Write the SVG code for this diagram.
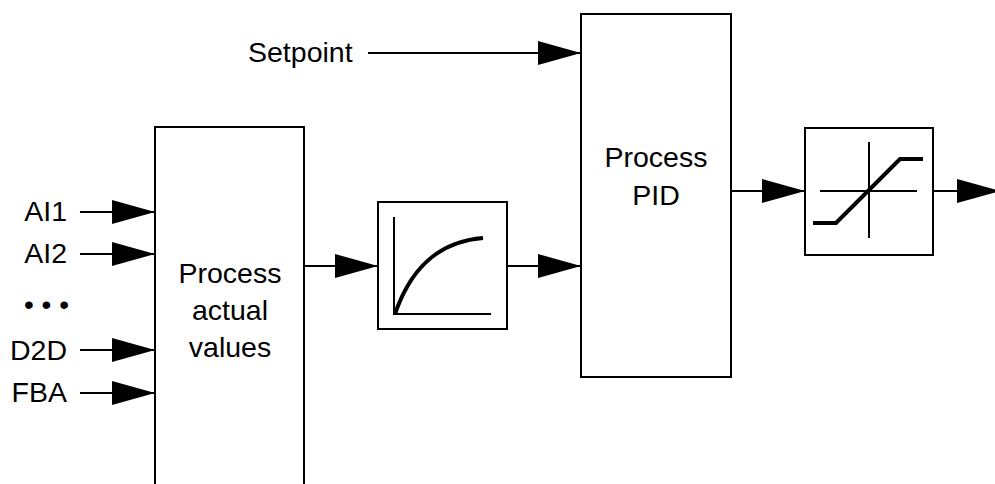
<svg xmlns="http://www.w3.org/2000/svg" width="995" height="484" viewBox="0 0 995 484">
<defs>
<style>
.box{fill:#fff;stroke:#000;stroke-width:2}
.ln{fill:none;stroke:#000;stroke-width:2}
.thick{fill:none;stroke:#000;stroke-width:4}
text{font-family:"Liberation Sans",Arial,sans-serif;font-size:28.5px;fill:#000}
.c{text-anchor:middle}
.e{text-anchor:end}
</style>
<marker id="ah" markerUnits="userSpaceOnUse" markerWidth="44" markerHeight="26" refX="43" refY="12" orient="auto">
<path d="M0,0 L43,12 L0,24 z" fill="#000"/>
</marker>
</defs>
<rect width="995" height="484" fill="#fff"/>
<g id="connectors">
<line class="ln" x1="80" y1="212" x2="155" y2="212" marker-end="url(#ah)"/>
<line class="ln" x1="80" y1="254" x2="155" y2="254" marker-end="url(#ah)"/>
<line class="ln" x1="80" y1="350" x2="155" y2="350" marker-end="url(#ah)"/>
<line class="ln" x1="80" y1="393" x2="155" y2="393" marker-end="url(#ah)"/>
<line class="ln" x1="304" y1="266" x2="378" y2="266" marker-end="url(#ah)"/>
<line class="ln" x1="507" y1="266" x2="581" y2="266" marker-end="url(#ah)"/>
<line class="ln" x1="368" y1="53" x2="581" y2="53" marker-end="url(#ah)"/>
<line class="ln" x1="731" y1="191" x2="805" y2="191" marker-end="url(#ah)"/>
<line class="ln" x1="933" y1="191" x2="1000" y2="191" marker-end="url(#ah)"/>
</g>
<g id="inputs">
<text class="e" x="67" y="221">AI1</text>
<text class="e" x="67" y="263">AI2</text>
<text class="e" x="69" y="314" style="font-size:28px">• • •</text>
<text class="e" x="67" y="360">D2D</text>
<text class="e" x="67" y="402">FBA</text>
</g>
<g id="setpoint">
<text x="248" y="62">Setpoint</text>
</g>
<g id="process-actual-values">
<rect class="box" x="155" y="127" width="149" height="380"/>
<text class="c" x="230" y="283">Process</text>
<text class="c" x="230" y="320">actual</text>
<text class="c" x="230" y="357">values</text>
</g>
<g id="filter">
<rect class="box" x="378" y="202" width="129" height="127"/>
<path class="ln" d="M394,217 V314 H491"/>
<path class="thick" d="M395,314 C408,276 432,242 483,238"/>
</g>
<g id="process-pid">
<rect class="box" x="581" y="14" width="150" height="363"/>
<text class="c" x="656" y="167">Process</text>
<text class="c" x="656" y="205">PID</text>
</g>
<g id="limiter">
<rect class="box" x="805" y="128" width="128" height="127"/>
<line class="ln" x1="869" y1="142" x2="869" y2="238"/>
<line class="ln" x1="820" y1="191" x2="917" y2="191"/>
<path class="thick" d="M813,223 H836 L900,159 H923"/>
</g>
</svg>
